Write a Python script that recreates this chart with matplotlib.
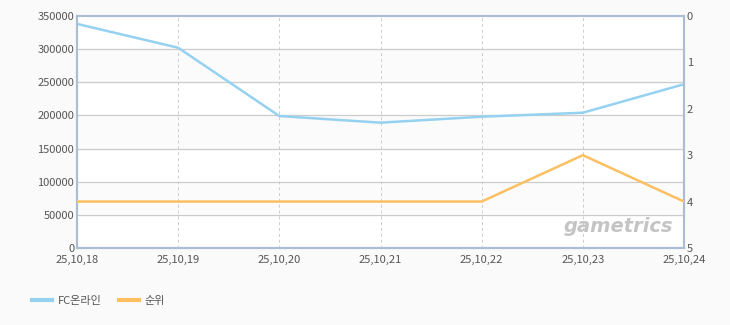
import matplotlib
matplotlib.use("Agg")
import matplotlib.pyplot as plt
from matplotlib.lines import Line2D

plt.rcParams['font.family'] = ['Noto Sans CJK KR', 'DejaVu Sans']

dates = ['25,10,18', '25,10,19', '25,10,20', '25,10,21', '25,10,22', '25,10,23', '25,10,24']
users = [338000, 302000, 199000, 189000, 198000, 204000, 247000]
rank = [4, 4, 4, 4, 4, 3, 4]
left_ticks = [0, 50000, 100000, 150000, 200000, 250000, 300000, 350000]
right_ticks = [0, 1, 2, 3, 4, 5]

blue = '#95d1f0'
orange = '#fcc062'
text_c = '#555555'

fig = plt.figure(figsize=(7.3, 3.25), dpi=100, facecolor='#fafafa')
ax = fig.add_axes([0.1055, 0.237, 0.8315, 0.714])
ax.set_facecolor('#ffffff')
x = list(range(len(dates)))

# alternating bands
for i in range(len(left_ticks) - 1):
    if i % 2 == 1:
        ax.axhspan(left_ticks[i], left_ticks[i + 1], color='#fbfbfb', zorder=0)

ax.set_xlim(0, len(dates) - 1)
ax.set_ylim(0, 350000)
ax.set_yticks(left_ticks)
ax.set_yticklabels([str(v) for v in left_ticks])
ax.set_xticks(x)
ax.set_xticklabels(dates)
for v in left_ticks[1:-1]:
    ax.axhline(v, color='#cccccc', lw=0.9, zorder=1)
for xi in x[1:-1]:
    ax.axvline(xi, color='#cccccc', lw=0.7, ls=(0, (3, 3)), zorder=1)

ax.plot(x, users, color=blue, lw=1.8, zorder=3)

ax2 = ax.twinx()
ax2.set_ylim(5, 0)
ax2.set_yticks(right_ticks)
ax2.plot(x, rank, color=orange, lw=1.8, zorder=3)

for a in (ax, ax2):
    for s in a.spines.values():
        s.set_color('#aabdd2')
        s.set_linewidth(1.5)
    a.tick_params(length=0, labelsize=8, colors=text_c, pad=2)
ax.tick_params(axis='x', pad=5)

ax.text(0.982, 0.05, 'gametrics', transform=ax.transAxes, ha='right', va='bottom',
        fontsize=14, fontweight='bold', style='italic', color='#c4c4c4',
        family='DejaVu Sans', zorder=2)

handles = [Line2D([], [], color=blue, lw=3), Line2D([], [], color=orange, lw=3)]
fig.legend(handles, ['FC온라인', '순위'], loc='center left', bbox_to_anchor=(0.03, 0.075),
           ncol=2, frameon=False, fontsize=8, handlelength=1.8, columnspacing=1.6,
           handletextpad=0.5, labelcolor=text_c)

fig.savefig('out.png', dpi=100, facecolor=fig.get_facecolor())
